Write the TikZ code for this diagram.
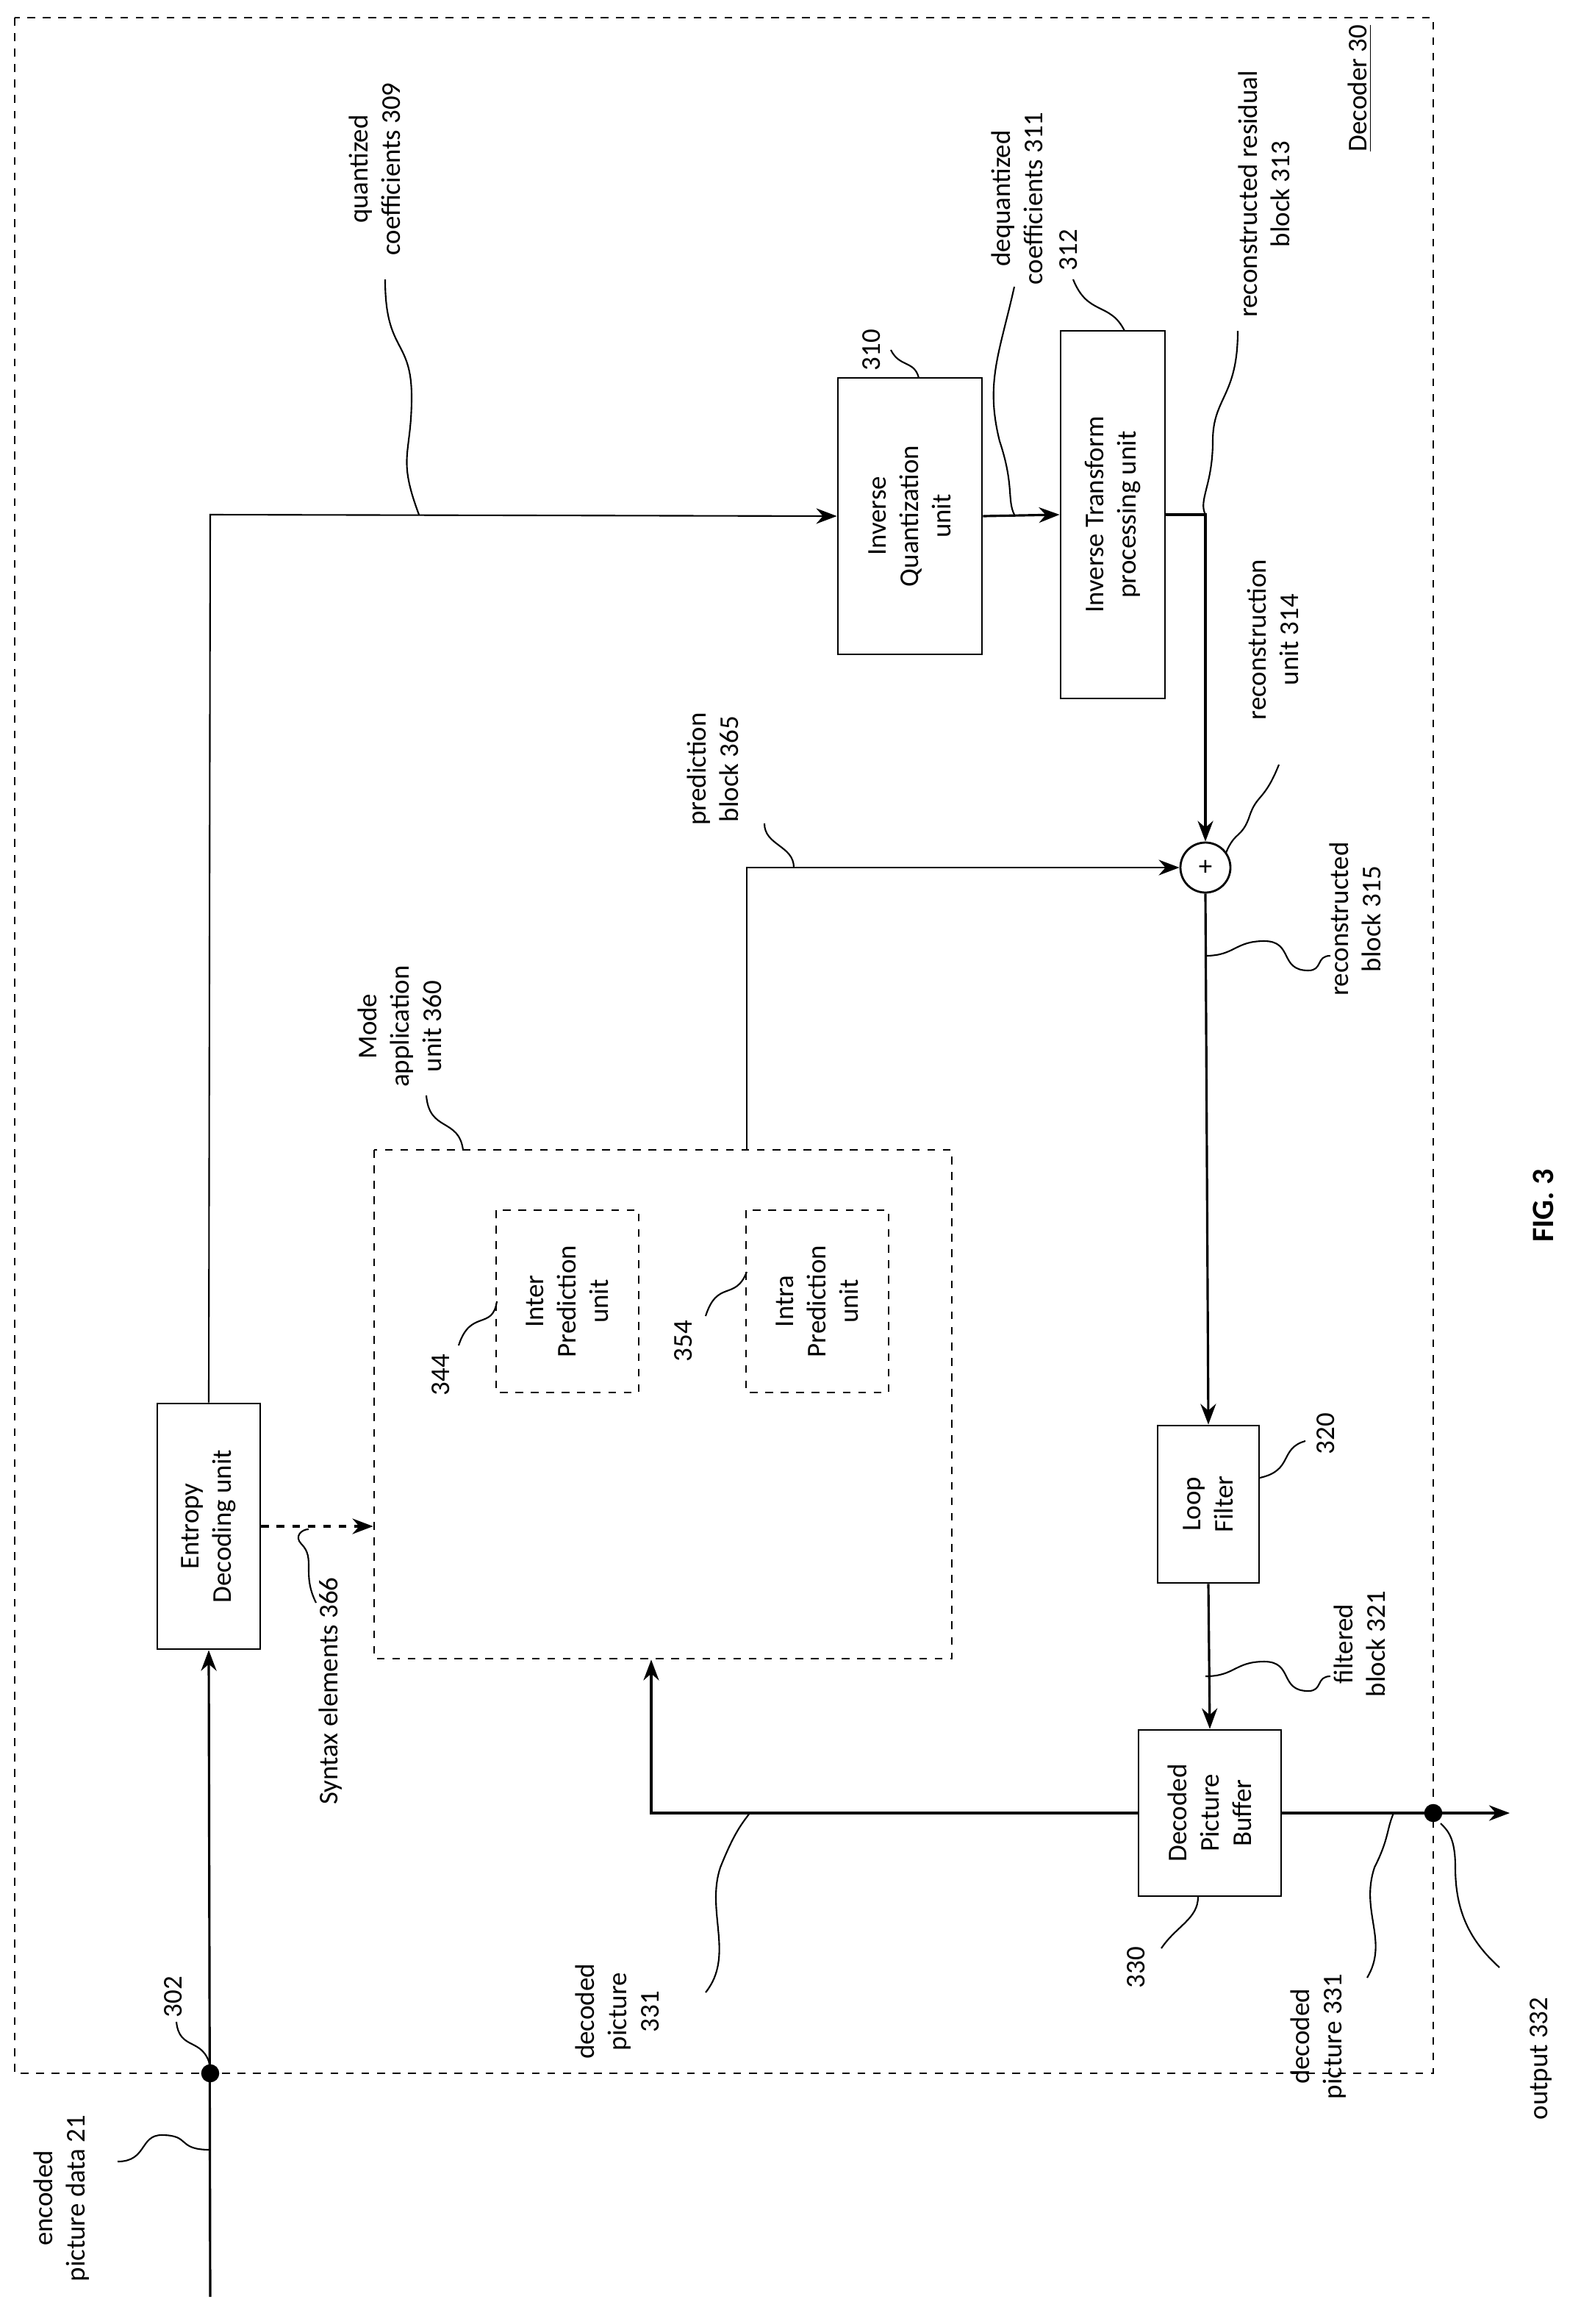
\documentclass[tikz,border=0pt]{standalone}
\usepackage{fontspec}
\setmainfont{Carlito}
\usetikzlibrary{arrows.meta}
\begin{document}
\begin{tikzpicture}[x=0.02cm,y=-0.02cm,
  every node/.style={font=\fontsize{10.5}{12.5}\selectfont},
  box/.style={draw,line width=0.8pt,rotate=90,align=center,inner sep=0pt},
  lbl/.style={rotate=90,align=center,inner sep=1pt},
  ln/.style={line width=0.9pt},
  arr/.style={ln,-{Stealth[length=8pt,width=6pt]}},
  sq/.style={line width=0.6pt},
  dot/.style={circle,fill,inner sep=0pt,minimum size=7pt}]
\useasboundingbox (0,0) rectangle (1075.5,1580.5);
\draw[dashed,line width=0.8pt] (10,12) rectangle (975,1410);
\node[lbl] (dec) at (925,60) {\underline{Decoder 30}};
\node[box,minimum width={167*0.02cm},minimum height={70*0.02cm}] (ent) at (142,1038) {Entropy\\Decoding unit};
\node[box,minimum width={188*0.02cm},minimum height={98*0.02cm}] (iq) at (619,351) {Inverse\\Quantization\\unit};
\node[box,minimum width={250*0.02cm},minimum height={71*0.02cm}] (it) at (757,350) {Inverse Transform\\processing unit};
\node[draw,circle,line width=0.8pt,minimum size={34*0.02cm},inner sep=0pt] (sum) at (820,590) {+};
\node[box,minimum width={107*0.02cm},minimum height={69*0.02cm}] (lf) at (822,1023) {Loop\\Filter};
\node[box,minimum width={113*0.02cm},minimum height={97*0.02cm}] (dpb) at (823,1233) {Decoded\\Picture\\Buffer};
\node[box,dashed,minimum width={346*0.02cm},minimum height={393*0.02cm}] (mode) at (451,955) {};
\node[box,dashed,minimum width={124*0.02cm},minimum height={97*0.02cm}] (inter) at (386,885) {Inter\\Prediction\\unit};
\node[box,dashed,minimum width={124*0.02cm},minimum height={97*0.02cm}] (intra) at (556,885) {Intra\\Prediction\\unit};
\coordinate (in0) at (143,1562);
\node[dot] (d302) at (143,1410) {};
\coordinate (c1) at (143,350);
\coordinate (c2) at (820,350);
\coordinate (c3) at (508,590);
\coordinate (c4) at (443,1233);
\node[dot] (d332) at (975,1233) {};
\coordinate (out) at (1027,1233);
\draw[arr] (in0) -- (ent.west);
\draw[arr,line width=0.6pt] (ent.east) -- (c1) -- (iq.north);
\draw[arr] (iq.south) -- (it.north);
\draw[arr] (it.south) -- (c2) -- (sum.north);
\draw[arr,line width=0.6pt] (mode.east -| c3) -- (c3) -- (sum.west);
\draw[arr] (sum.south) -- (lf.east);
\draw[arr] (lf.west) -- (dpb.east);
\draw[arr] (dpb.north) -- (c4) -- (c4 |- mode.west);
\draw[arr] (dpb.south) -- (out);
\draw[ln,dashed,-{Stealth[length=8pt,width=6pt]}] (ent.south) -- (ent.south -| mode.north);
\node[lbl] (l21) at (42,1495) {encoded\\picture data 21};
\draw[sq] (143,1462) .. controls (120,1462) and (130,1452) .. (110,1452) .. controls (95,1452) and (100,1470) .. (80,1470);
\node[lbl] (l302) at (118,1358) {302};
\draw[sq] (120,1375) .. controls (122,1395) and (138,1385) .. (143,1405);
\node[lbl] (l309) at (255,115) {quantized\\coefficients 309};
\draw[sq] (262,190) .. controls (262,240) and (280,230) .. (280,270) .. controls (280,310) and (270,310) .. (285,350);
\node[lbl] (l310) at (593,238) {310};
\draw[sq] (606,238) .. controls (612,250) and (622,245) .. (625,257);
\node[lbl] (l311) at (692,135) {dequantized\\coefficients 311};
\draw[sq] (690,195) .. controls (680,240) and (670,260) .. (680,300) .. controls (690,330) and (685,340) .. (690,350);
\node[lbl] (l312) at (727,170) {312};
\draw[sq] (730,190) .. controls (740,215) and (755,205) .. (765,225);
\node[lbl] (l313) at (860,132) {reconstructed residual\\block 313};
\draw[sq] (842,225) .. controls (842,270) and (825,270) .. (825,300) .. controls (825,330) and (815,340) .. (820,350);
\node[lbl] (l314) at (866,435) {reconstruction\\unit 314};
\draw[sq] (870,520) .. controls (860,545) and (855,540) .. (850,555) .. controls (845,570) and (840,565) .. (834,580);
\node[lbl] (l365) at (485,523) {prediction\\block 365};
\draw[sq] (520,560) .. controls (520,575) and (540,575) .. (540,590);
\node[lbl] (l315) at (922,625) {reconstructed\\block 315};
\draw[sq] (820,650) .. controls (840,650) and (840,640) .. (860,640) .. controls (880,640) and (870,660) .. (890,660) .. controls (900,660) and (895,650) .. (905,650);
\node[lbl] (l320) at (902,975) {320};
\draw[sq] (888,980) .. controls (870,985) and (880,1000) .. (857,1005);
\node[lbl] (l321) at (925,1118) {filtered\\block 321};
\draw[sq] (820,1140) .. controls (840,1140) and (840,1130) .. (860,1130) .. controls (880,1130) and (870,1150) .. (890,1150) .. controls (900,1150) and (895,1140) .. (905,1140);
\node[lbl] (l330) at (773,1338) {330};
\draw[sq] (790,1325) .. controls (800,1310) and (815,1305) .. (815,1290);
\node[lbl] (l331a) at (420,1368) {decoded\\picture\\331};
\draw[sq] (480,1355) .. controls (500,1330) and (480,1300) .. (490,1270) .. controls (500,1245) and (505,1240) .. (510,1233);
\node[lbl] (l331b) at (897,1385) {decoded\\picture 331};
\draw[sq] (930,1345) .. controls (945,1320) and (925,1300) .. (935,1270) .. controls (945,1250) and (943,1245) .. (948,1233);
\node[lbl] (l332) at (1048,1400) {output 332};
\draw[sq] (1020,1338) .. controls (1000,1320) and (990,1300) .. (990,1270) .. controls (990,1250) and (985,1245) .. (980,1240);
\node[lbl] (l360) at (272,698) {Mode\\application\\unit 360};
\draw[sq] (290,745) .. controls (292,770) and (312,760) .. (315,782);
\node[lbl] (l344) at (300,935) {344};
\draw[sq] (312,915) .. controls (320,890) and (335,905) .. (338,885);
\node[lbl] (l354) at (465,912) {354};
\draw[sq] (480,895) .. controls (488,870) and (500,885) .. (508,865);
\node[lbl] (l366) at (225,1150) {Syntax elements 366};
\draw[sq] (215,1090) .. controls (205,1070) and (215,1060) .. (205,1050) .. controls (200,1045) and (205,1040) .. (210,1040);
\node[lbl,font=\fontsize{12}{14}\selectfont\bfseries] (fig) at (1050,820) {FIG. 3};
\end{tikzpicture}
\end{document}
